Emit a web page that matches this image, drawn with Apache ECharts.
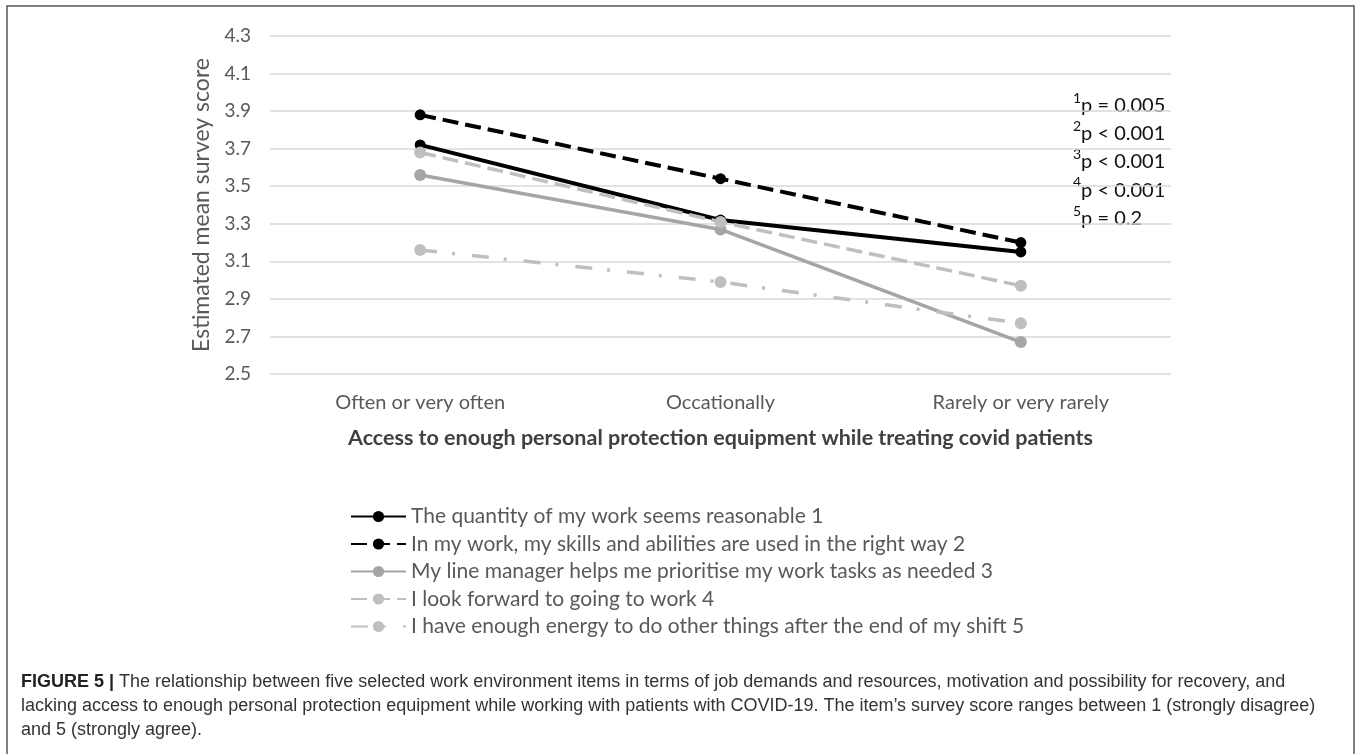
<!DOCTYPE html>
<html>
<head>
<meta charset="utf-8">
<script src="https://cdn.jsdelivr.net/npm/echarts@6/dist/echarts.min.js"></script>
<style>
html,body{margin:0;padding:0;background:#fff;}
#chart{width:1357px;height:754px;}
</style>
</head>
<body>
<div id="chart"></div>
<script>
var categories = ['Often or very often', 'Occationally', 'Rarely or very rarely'];
var seriesNames = [
  'The quantity of my work seems reasonable 1',
  'In my work, my skills and abilities are used in the right way 2',
  'My line manager helps me prioritise my work tasks as needed 3',
  'I look forward to going to work 4',
  'I have enough energy to do other things after the end of my shift 5'
];
var quantityWork = [3.72, 3.32, 3.15];
var skillsUsed = [3.88, 3.54, 3.20];
var managerHelps = [3.56, 3.27, 2.67];
var lookForward = [3.68, 3.31, 2.97];
var enoughEnergy = [3.16, 2.99, 2.77];
var yMin = 2.5, yMax = 4.3;
var pSup = ['1', '2', '3', '4', '5'];
var pText = ['p = 0.005', 'p < 0.001', 'p < 0.001', 'p < 0.001', 'p = 0.2'];
var xTitle = 'Access to enough personal protection equipment while treating covid patients';
var yTitle = 'Estimated mean survey score';
var captionBold = 'FIGURE 5 |';
var captionLines = [
  ' The relationship between five selected work environment items in terms of job demands and resources, motivation and possibility for recovery, and',
  'lacking access to enough personal protection equipment while working with patients with COVID-19. The item\u2019s survey score ranges between 1 (strongly disagree)',
  'and 5 (strongly agree).'
];

var FONT = 'Lato';
var chart = echarts.init(document.getElementById('chart'), null, {renderer: 'canvas'});

function mkSeries(name, data, color, width, type, size) {
  return {
    name: name, type: 'line', data: data,
    symbol: 'circle', symbolSize: size,
    itemStyle: {color: color},
    lineStyle: {color: color, width: width, type: type, cap: 'butt'},
    emphasis: {disabled: true}
  };
}

var pRich = pSup.map(function (s, i) { return '{s|' + s + '}{m|' + pText[i] + '}'; }).join('\n');

var graphics = [
  {type: 'rect', shape: {x: 7, y: 6, width: 1347, height: 800}, style: {fill: 'none', stroke: '#555', lineWidth: 1.5}, silent: true},
  {type: 'text', left: 1073, top: 91, style: {
    text: pRich, font: '20px ' + FONT,
    rich: {
      s: {fontSize: 14, fontFamily: FONT, fill: '#111', lineHeight: 28.3, verticalAlign: 'top', padding: [0, 0, 8, 0]},
      m: {fontSize: 20, fontFamily: FONT, fill: '#111', lineHeight: 28.3}
    }
  }}
];
captionLines.forEach(function (t, i) {
  graphics.push({type: 'text', left: 21, top: 673 + i * 24, style: {
    text: i === 0 ? '{b|' + captionBold + '}{r|' + t + '}' : '{r|' + t + '}',
    rich: {
      b: {fontFamily: 'Liberation Sans', fontSize: 18, fontWeight: 'bold', fill: '#222'},
      r: {fontFamily: 'Liberation Sans', fontSize: 18, fill: '#333'}
    }
  }});
});

var option = {
  animation: false,
  backgroundColor: '#fff',
  grid: {left: 270, right: 186, top: 36, bottom: 380},
  legend: {
    orient: 'vertical', left: 350, top: 506, padding: 0,
    itemWidth: 55, itemHeight: 14, itemGap: 6.5,
    textStyle: {fontFamily: FONT, fontSize: 21, color: '#595959', lineHeight: 21},
    data: seriesNames
  },
  xAxis: {
    type: 'category', data: categories, boundaryGap: true,
    axisLine: {show: false}, axisTick: {show: false},
    axisLabel: {fontFamily: FONT, fontSize: 20, color: '#595959', margin: 19},
    name: xTitle, nameLocation: 'middle', nameGap: 53,
    nameTextStyle: {fontFamily: FONT, fontSize: 21.5, fontWeight: 'bold', color: '#404040'}
  },
  yAxis: {
    type: 'value', min: yMin, max: yMax, interval: 0.1,
    axisLine: {show: false}, axisTick: {show: false},
    splitLine: {show: true, lineStyle: {color: ['#d9d9d9', 'rgba(0,0,0,0)'], width: 1.5}},
    axisLabel: {
      fontFamily: FONT, fontSize: 19, color: '#595959', margin: 19,
      formatter: function (v) { return (Math.round(v * 10) % 2 === 1) ? v.toFixed(1) : ''; }
    },
    name: yTitle, nameLocation: 'middle', nameGap: 51,
    nameTextStyle: {fontFamily: FONT, fontSize: 23, color: '#595959'}
  },
  graphic: graphics,
  series: [
    mkSeries(seriesNames[0], quantityWork, '#000000', 4, 'solid', 11),
    mkSeries(seriesNames[1], skillsUsed, '#000000', 4, [16, 7], 11),
    mkSeries(seriesNames[2], managerHelps, '#a5a5a5', 3.5, 'solid', 12),
    mkSeries(seriesNames[3], lookForward, '#bfbfbf', 3.5, [16, 7], 12),
    mkSeries(seriesNames[4], enoughEnergy, '#bfbfbf', 3.5, [17, 15, 3, 17], 12)
  ]
};
chart.setOption(option);
</script>
</body>
</html>
